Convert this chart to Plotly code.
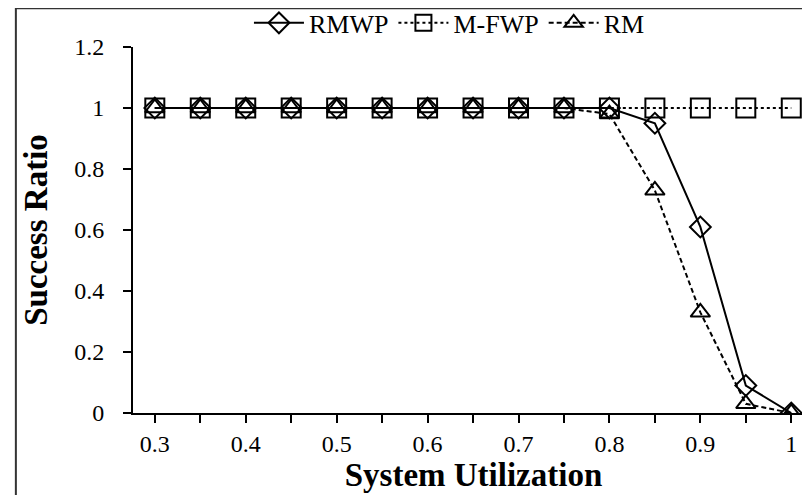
import plotly.graph_objects as go

utilization = [0.3, 0.35, 0.4, 0.45, 0.5, 0.55, 0.6, 0.65, 0.7, 0.75, 0.8, 0.85, 0.9, 0.95, 1.0]
rmwp = [1, 1, 1, 1, 1, 1, 1, 1, 1, 1, 1, 0.95, 0.61, 0.09, 0]
mfwp = [1, 1, 1, 1, 1, 1, 1, 1, 1, 1, 1, 1, 1, 1, 1]
rm = [1, 1, 1, 1, 1, 1, 1, 1, 1, 1, 0.98, 0.73, 0.33, 0.03, 0]
x_tickvals = utilization + [1.025]
x_ticktext = ["0.3", "", "0.4", "", "0.5", "", "0.6", "", "0.7", "", "0.8", "", "0.9", "", "1", ""]
y_tickvals = [0, 0.2, 0.4, 0.6, 0.8, 1, 1.2]
y_ticktext = ["0", "0.2", "0.4", "0.6", "0.8", "1", "1.2"]

FONT = "Liberation Serif, Times New Roman, serif"

fig = go.Figure()
fig.add_trace(go.Scatter(
    x=utilization, y=rmwp, name="RMWP", mode="lines+markers",
    line=dict(color="black", width=2, dash="solid"),
    marker=dict(symbol="diamond-open", size=16, color="black", line=dict(width=2, color="black")),
))
fig.add_trace(go.Scatter(
    x=utilization, y=mfwp, name="M-FWP", mode="lines+markers",
    line=dict(color="black", width=2, dash="dot"),
    marker=dict(symbol="square-open", size=19, color="black", line=dict(width=2, color="black")),
))
fig.add_trace(go.Scatter(
    x=utilization, y=rm, name="RM", mode="lines+markers",
    line=dict(color="black", width=2, dash="5px,3px"),
    marker=dict(symbol="triangle-up-open", size=17, color="black", line=dict(width=2, color="black")),
))

fig.update_layout(
    width=810, height=495,
    margin=dict(l=125, r=4, t=39, b=90, autoexpand=False),
    paper_bgcolor="white", plot_bgcolor="white",
    font=dict(family=FONT, size=24, color="black"),
    showlegend=True,
    legend=dict(
        orientation="h", xref="container", yref="paper",
        x=0.545, xanchor="center", y=1.13, yanchor="top",
        font=dict(family=FONT, size=26, color="black"),
        bgcolor="rgba(0,0,0,0)", itemwidth=50, tracegroupgap=0,
    ),
    xaxis=dict(
        range=[0.276, 1.025],
        tickmode="array", tickvals=x_tickvals, ticktext=x_ticktext,
        ticks="outside", ticklen=8, tickwidth=2, tickcolor="black",
        showline=True, linecolor="black", linewidth=2,
        showgrid=False, zeroline=False,
        tickfont=dict(family=FONT, size=24, color="black"),
        ticklabelstandoff=0,
        title=dict(text="<b>System Utilization</b>", font=dict(family=FONT, size=33, color="black"), standoff=0),
    ),
    yaxis=dict(
        range=[0, 1.2],
        tickmode="array", tickvals=y_tickvals, ticktext=y_ticktext,
        ticks="outside", ticklen=8, tickwidth=2, tickcolor="black",
        showline=True, linecolor="black", linewidth=2,
        showgrid=False, zeroline=False,
        tickfont=dict(family=FONT, size=24, color="black"),
        ticklabelstandoff=14,
        title=dict(text="<b>Success Ratio</b>", font=dict(family=FONT, size=33, color="black"), standoff=17),
    ),
    shapes=[dict(
        type="rect", xref="paper", yref="paper",
        x0=-0.172, x1=1.2, y0=-0.232, y1=1.106,
        line=dict(color="#333333", width=2), fillcolor="rgba(0,0,0,0)", layer="below",
    )],
)

fig.write_html("out.html")
